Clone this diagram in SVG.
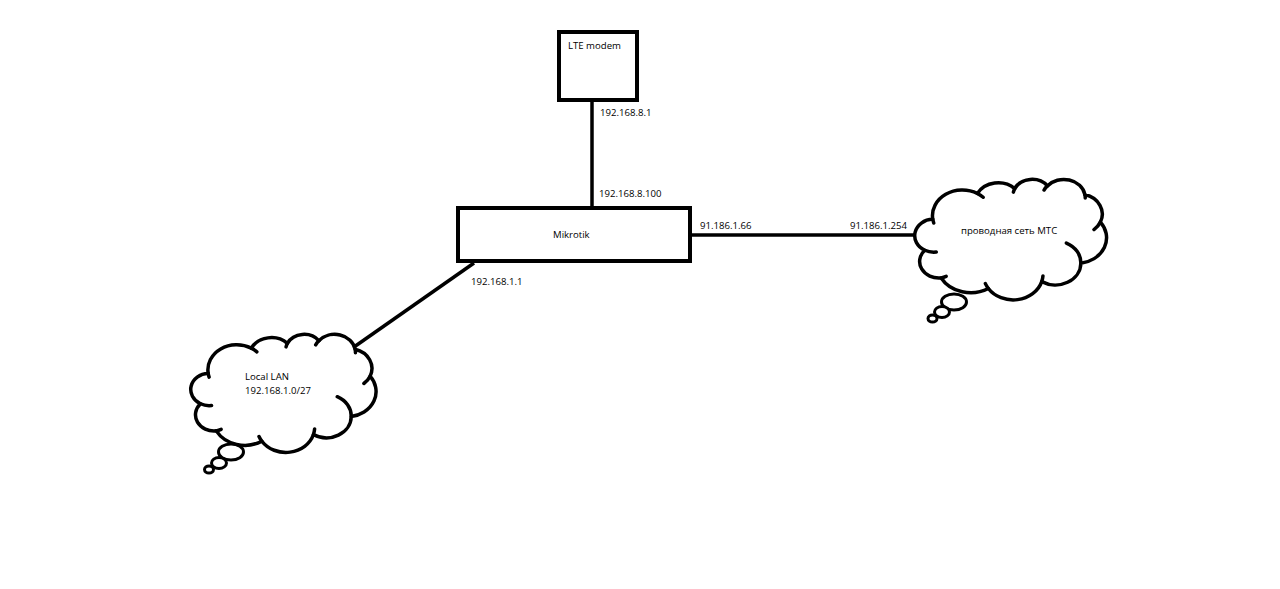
<svg xmlns="http://www.w3.org/2000/svg" width="1280" height="589" viewBox="0 0 1280 589">
  <defs>
    <style>
      .box { fill: #ffffff; stroke: #000000; stroke-width: 4; }
      .wire { stroke: #000000; stroke-width: 3.5; fill: none; stroke-linecap: butt; }
      .cloud { fill: #ffffff; stroke: #000000; stroke-width: 3.5; vector-effect: non-scaling-stroke; stroke-linejoin: round; }
      .hook { fill: none; stroke: #000000; stroke-width: 3.5; vector-effect: non-scaling-stroke; stroke-linecap: round; }
      .bubble { fill: #ffffff; stroke: #000000; stroke-width: 3; }
      .lbl { font-family: "Open Sans", "Liberation Sans", sans-serif; font-size: 9.6px; fill: #000000; }
    </style>
  </defs>
  <rect width="1280" height="589" fill="#ffffff"/>

  <g id="connectors">
    <line class="wire" x1="592" y1="100" x2="592" y2="208"/>
    <line class="wire" x1="690" y1="235" x2="922" y2="235"/>
    <line class="wire" x1="474" y1="263" x2="354" y2="347"/>
  </g>

  <g id="lte-modem">
    <rect class="box" x="559" y="32" width="78" height="68"/>
    <text class="lbl" x="568" y="49">LTE modem</text>
  </g>

  <g id="mikrotik">
    <rect class="box" x="458" y="208" width="232" height="53"/>
    <text class="lbl" x="553" y="238">Mikrotik</text>
  </g>

  <g id="mts-cloud">
    <ellipse class="bubble" cx="954" cy="302" rx="12.5" ry="8"/>
    <ellipse class="bubble" cx="942" cy="312" rx="7.5" ry="5.5"/>
    <ellipse class="bubble" cx="932.5" cy="318.5" rx="4.5" ry="3.5"/>
    <g transform="translate(915.5 179) scale(0.0044213 0.0027894)">
      <path class="cloud" vector-effect="non-scaling-stroke" d="M3900 14370 A6753 9190 0 0 1 14000 5192 A5333 7267 0 0 1 22452 3424 A4365 5945 0 0 1 29829 2473 A4857 6595 0 0 1 38314 5567 A5333 7273 0 0 1 41815 15451 A6775 9220 0 0 1 37400 30194 A5785 7867 0 0 1 28552 36804 A6752 9215 0 0 1 16477 39255 A7720 10543 0 0 1 5800 35461 A4360 5918 0 0 1 2109 25539 A4345 5945 0 0 1 3900 14370 Z"/>
      <path class="hook" vector-effect="non-scaling-stroke" d="M4693 26177 A4345 5945 0 0 1 2109 25539 M6928 34899 A4360 5918 0 0 1 5800 35461 M16477 39255 A6752 9215 0 0 1 15809 37515 M28827 34751 A6752 9215 0 0 1 28552 36804 M34129 22954 A5785 7867 0 0 1 37400 30194 M41815 15451 A5333 7273 0 0 1 40366 18127 M38314 5567 A4857 6595 0 0 1 38391 6831 M29078 3952 A4857 6595 0 0 1 29829 2473 M22141 4720 A4365 5945 0 0 1 22452 3424 M14000 5192 A6753 9190 0 0 1 15304 6550 M4127 15789 A6753 9190 0 0 1 3900 14370"/>
    </g>
    <text class="lbl" x="961" y="234">проводная сеть МТС</text>
  </g>

  <g id="local-lan">
    <ellipse class="bubble" cx="231" cy="452" rx="12.5" ry="8"/>
    <ellipse class="bubble" cx="219" cy="463" rx="7.5" ry="5.5"/>
    <ellipse class="bubble" cx="209" cy="469.5" rx="4.5" ry="3.5"/>
    <g transform="translate(191.5 334) scale(0.0042708 0.0027315)">
      <path class="cloud" vector-effect="non-scaling-stroke" d="M3900 14370 A6753 9190 0 0 1 14000 5192 A5333 7267 0 0 1 22452 3424 A4365 5945 0 0 1 29829 2473 A4857 6595 0 0 1 38314 5567 A5333 7273 0 0 1 41815 15451 A6775 9220 0 0 1 37400 30194 A5785 7867 0 0 1 28552 36804 A6752 9215 0 0 1 16477 39255 A7720 10543 0 0 1 5800 35461 A4360 5918 0 0 1 2109 25539 A4345 5945 0 0 1 3900 14370 Z"/>
      <path class="hook" vector-effect="non-scaling-stroke" d="M4693 26177 A4345 5945 0 0 1 2109 25539 M6928 34899 A4360 5918 0 0 1 5800 35461 M16477 39255 A6752 9215 0 0 1 15809 37515 M28827 34751 A6752 9215 0 0 1 28552 36804 M34129 22954 A5785 7867 0 0 1 37400 30194 M41815 15451 A5333 7273 0 0 1 40366 18127 M38314 5567 A4857 6595 0 0 1 38391 6831 M29078 3952 A4857 6595 0 0 1 29829 2473 M22141 4720 A4365 5945 0 0 1 22452 3424 M14000 5192 A6753 9190 0 0 1 15304 6550 M4127 15789 A6753 9190 0 0 1 3900 14370"/>
    </g>
    <text class="lbl" x="245" y="380">Local LAN</text>
    <text class="lbl" x="245" y="394">192.168.1.0/27</text>
  </g>

  <g id="labels">
    <text class="lbl" x="600" y="116">192.168.8.1</text>
    <text class="lbl" x="599" y="197">192.168.8.100</text>
    <text class="lbl" x="700" y="229">91.186.1.66</text>
    <text class="lbl" x="850" y="229">91.186.1.254</text>
    <text class="lbl" x="471" y="285">192.168.1.1</text>
  </g>
</svg>
